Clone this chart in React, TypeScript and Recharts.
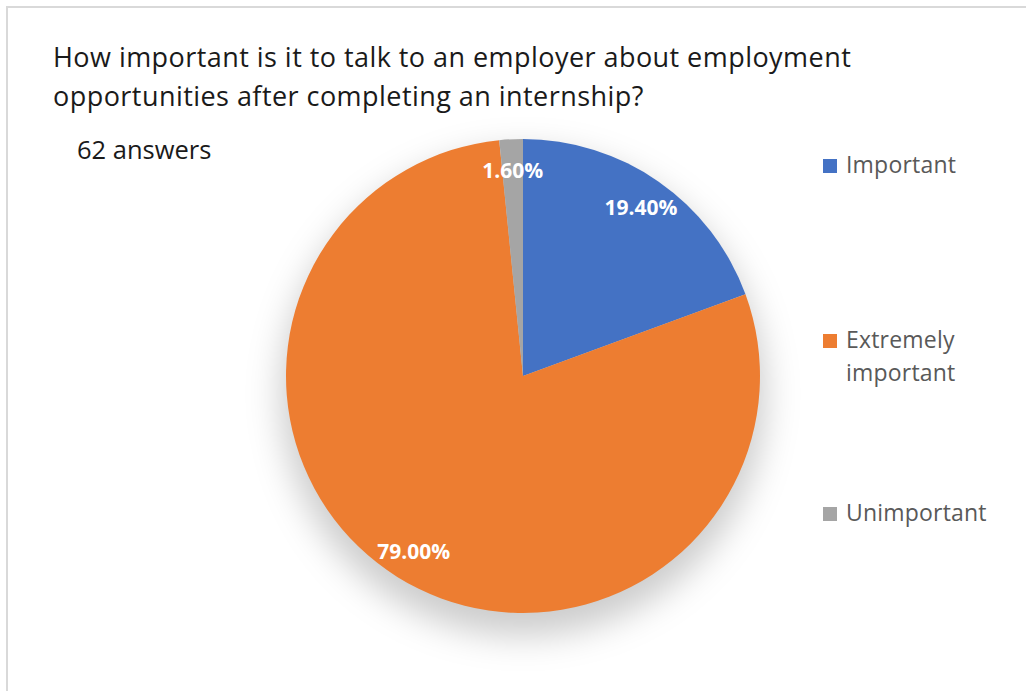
import React from 'react';
import { PieChart, Pie, Cell, Legend } from 'recharts';

const categories = ['Important', 'Extremely important', 'Unimportant'];
const shares = [19.4, 79.0, 1.6];
const colors = ['#4472C4', '#ED7D31', '#A5A5A5'];
const titleLines = [
  'How important is it to talk to an employer about employment',
  'opportunities after completing an internship?',
];
const subtitle = '62 answers';

const data = categories.map((name, i) => ({ name, value: shares[i] }));
const shadowData = [{ name: 'shadow', value: 1 }];

const FONT = "'Open Sans', sans-serif";
const RAD = Math.PI / 180;

const renderLabel = (props: any) => {
  const { cx, cy, midAngle, outerRadius, value } = props;
  const r = outerRadius * 0.87;
  const x = cx + r * Math.cos(-midAngle * RAD);
  const y = cy + r * Math.sin(-midAngle * RAD);
  return (
    <text
      x={x}
      y={y}
      fill="#ffffff"
      textAnchor="middle"
      dominantBaseline="central"
      fontFamily={FONT}
      fontWeight={700}
      fontSize={21}
    >
      {`${Number(value).toFixed(2)}%`}
    </text>
  );
};

const legendTops = [148, 323, 496];

const renderLegend = (props: any) => {
  const payload = (props.payload || [])
    .filter((p: any) => p.type !== 'none' && categories.includes(p.value))
    .sort((a: any, b: any) => categories.indexOf(a.value) - categories.indexOf(b.value));
  return (
    <div style={{ position: 'relative', width: 200, height: 420 }}>
      {payload.map((entry: any, i: number) => (
        <div
          key={entry.value}
          style={{ position: 'absolute', left: 0, top: legendTops[i] - 148, width: 200 }}
        >
          <div
            style={{
              position: 'absolute',
              left: 0,
              top: 11,
              width: 14,
              height: 14,
              background: entry.color,
            }}
          />
          <div
            style={{
              position: 'absolute',
              left: 23,
              top: 0,
              width: 150,
              fontFamily: FONT,
              fontSize: 23,
              letterSpacing: 0.2,
              lineHeight: '33px',
              color: '#595959',
            }}
          >
            {entry.value}
          </div>
        </div>
      ))}
    </div>
  );
};

export default function App() {
  return (
    <div style={{ position: 'absolute', left: 0, top: 0, width: 1026, height: 691, overflow: 'hidden' }}>
      <div
        style={{
          position: 'absolute',
          left: 6,
          top: 6,
          width: 1020,
          height: 685,
          borderTop: '2px solid #d9d9d9',
          borderLeft: '2px solid #d9d9d9',
          boxSizing: 'border-box',
          background: '#ffffff',
        }}
      />
      <div style={{ position: 'absolute', left: 0, top: 0 }}>
        <PieChart width={1026} height={691} margin={{ top: 0, right: 0, bottom: 0, left: 0 }}>
          <defs>
            <filter id="pieShadow" x="-30%" y="-30%" width="160%" height="160%">
              <feGaussianBlur stdDeviation="17" />
            </filter>
          </defs>
          <Pie
            data={shadowData}
            dataKey="value"
            cx={523}
            cy={394}
            outerRadius={242}
            startAngle={90}
            endAngle={-270}
            fill="#000000"
            fillOpacity={0.2}
            stroke="none"
            filter="url(#pieShadow)"
            legendType="none"
            isAnimationActive={false}
            label={false}
            labelLine={false}
          />
          <Pie
            data={data}
            dataKey="value"
            nameKey="name"
            cx={523}
            cy={376}
            outerRadius={237}
            startAngle={90}
            endAngle={-270}
            stroke="none"
            isAnimationActive={false}
            labelLine={false}
            label={renderLabel}
          >
            {data.map((d, i) => (
              <Cell key={d.name} fill={colors[i]} />
            ))}
          </Pie>
          <Legend
            content={renderLegend}
            itemSorter={null as any}
            wrapperStyle={{ position: 'absolute', left: 823, top: 148, width: 200, height: 420 }}
          />
        </PieChart>
      </div>
      <div
        style={{
          position: 'absolute',
          left: 53,
          top: 37,
          fontFamily: FONT,
          fontSize: 27,
          letterSpacing: 0.45,
          lineHeight: '39px',
          color: '#1a1a1a',
          whiteSpace: 'nowrap',
        }}
      >
        {titleLines.map((l) => (
          <div key={l}>{l}</div>
        ))}
      </div>
      <div
        style={{
          position: 'absolute',
          left: 77,
          top: 130,
          fontFamily: FONT,
          fontSize: 25.5,
          lineHeight: '39px',
          color: '#1a1a1a',
          whiteSpace: 'nowrap',
        }}
      >
        {subtitle}
      </div>
    </div>
  );
}
